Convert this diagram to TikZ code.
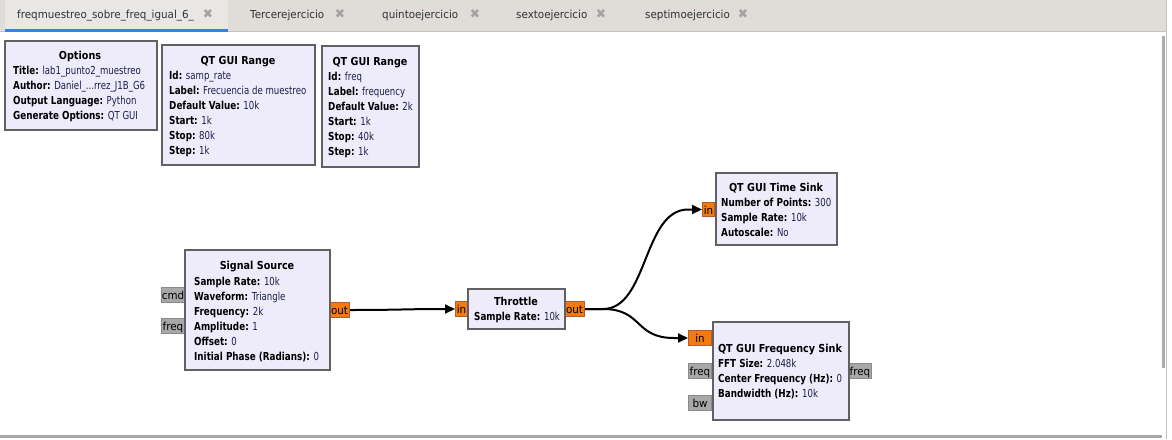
\documentclass[tikz,border=0pt]{standalone}
\usepackage{fontspec}
\setmainfont{DejaVu Sans}[UprightFeatures={FakeStretch=0.78}, BoldFeatures={FakeStretch=0.80}]
\newfontfamily\tabfont{DejaVu Sans}[FakeStretch=0.94]
\newfontfamily\ttlfont{DejaVu Sans}[FakeStretch=0.875]
\usetikzlibrary{arrows.meta}
\definecolor{blockfill}{HTML}{EEEBFB}
\definecolor{blockborder}{HTML}{616161}
\definecolor{portorange}{HTML}{F37A0C}
\definecolor{portoborder}{HTML}{B35A2E}
\definecolor{portgray}{HTML}{A8A8A8}
\definecolor{portgborder}{HTML}{8A8A8A}
\definecolor{tabbar}{HTML}{E0DCD8}
\definecolor{tabactive}{HTML}{E9E7E5}
\definecolor{tabblue}{HTML}{3584E4}
\definecolor{tabline}{HTML}{C5C1BC}
\definecolor{tabtext}{HTML}{2E3436}
\definecolor{closegray}{HTML}{A3A3A3}
\definecolor{scrollc}{HTML}{A9ADAB}
\definecolor{valcol}{HTML}{1A2048}
\newcommand\blkfont{\fontsize{11}{13}\selectfont}
\newcommand\kv[2]{\textbf{#1:} \textcolor{valcol}{#2}}
\begin{document}
\begin{tikzpicture}[x=1pt,y=-1pt,
  block/.style={draw=blockborder, fill=blockfill, line width=2pt, inner sep=0pt, anchor=north west},
  oport/.style={draw=portoborder, fill=portorange, line width=1pt, inner sep=0pt, anchor=north west,
     minimum height=15pt, font=\tabfont\fontsize{11}{13}\selectfont, text=black, text height=9.5pt, text depth=0.5pt},
  gport/.style={oport, draw=portgborder, fill=portgray},
  ttl/.style={anchor=base, inner sep=0pt, font=\ttlfont\fontsize{11}{13}\selectfont\bfseries},
  txt/.style={anchor=base west, inner sep=0pt, font=\blkfont},
  tabtxt/.style={anchor=base west, inner sep=0pt, font=\tabfont\fontsize{11}{13}\selectfont, text=tabtext},
  closeic/.style={inner sep=0pt, font=\tabfont\fontsize{13}{13}\selectfont, text=closegray},
  conn/.style={line width=2pt, black, -{Triangle[length=10pt,width=9pt]}}]
\useasboundingbox (0,0) rectangle (1172,439);
\fill[white] (0,0) rectangle (1172,439);
% tab bar
\fill[tabbar] (0,0) rectangle (1166,31);
\draw[tabline, line width=1pt] (0,31.5) -- (1166,31.5);
\fill[tabactive] (5,0) rectangle (228,29);
\fill[tabblue] (5,29) rectangle (228,32);
\node[tabtxt] (t1) at (17,18) {freqmuestreo\_sobre\_freq\_igual\_6\_};
\node[closeic] (c1) at (208,14) {✖};
\node[tabtxt] (t2) at (250,18) {Tercerejercicio};
\node[closeic] (c2) at (340,14) {✖};
\node[tabtxt] (t3) at (382,18) {quintoejercicio};
\node[closeic] (c3) at (475,14) {✖};
\node[tabtxt] (t4) at (516,18) {sextoejercicio};
\node[closeic] (c4) at (601,14) {✖};
\node[tabtxt] (t5) at (645,18) {septimoejercicio};
\node[closeic] (c5) at (743,14) {✖};
% window edges and scrollbars
\draw[tabline, line width=1pt] (1166.5,0) -- (1166.5,439);
\fill[scrollc] (1162,36) rectangle (1165,368);
\fill[portgray] (0,435) rectangle (1162,438);
% ports
\node[gport, minimum width=23pt] (cmd) at (161,287) {cmd};
\node[gport, minimum width=23pt] (ssfreq) at (161,318) {freq};
\node[oport, minimum width=20pt] (ssout) at (329,302) {out};
\node[oport, minimum width=12pt] (thin) at (455,301) {in};
\node[oport, minimum width=20pt] (thout) at (564,301) {out};
\node[oport, minimum width=12pt, minimum height=14pt] (tsin) at (702,202) {in};
\node[oport, minimum width=23pt] (fsin) at (688,330) {in};
\node[gport, minimum width=23pt] (fsfreq) at (688,363) {freq};
\node[gport, minimum width=23pt] (fsbw) at (688,395) {bw};
\node[gport, minimum width=23pt] (fsfreqo) at (848,363) {freq};
% blocks
\node[block, minimum width=152pt, minimum height=89pt] (opt) at (4,40) {};
\node[ttl] (optT) at (80,59) {Options};
\node[txt] (opt1) at (13,74) {\kv{Title}{lab1\_punto2\_muestreo}};
\node[txt] (opt2) at (13,89) {\kv{Author}{Daniel\_...rrez\_J1B\_G6}};
\node[txt] (opt3) at (13,104) {\kv{Output Language}{Python}};
\node[txt] (opt4) at (13,119) {\kv{Generate Options}{QT GUI}};

\node[block, minimum width=153pt, minimum height=120pt] (r1) at (161,44) {};
\node[ttl] (r1T) at (238,64) {QT GUI Range};
\node[txt] (r11) at (169,79.5) {\kv{Id}{samp\_rate}};
\node[txt] (r12) at (169,94.5) {\kv{Label}{Frecuencia de muestreo}};
\node[txt] (r13) at (169,109.5) {\kv{Default Value}{10k}};
\node[txt] (r14) at (169,124.5) {\kv{Start}{1k}};
\node[txt] (r15) at (169,139.5) {\kv{Stop}{80k}};
\node[txt] (r16) at (169,154.5) {\kv{Step}{1k}};

\node[block, minimum width=97pt, minimum height=121pt] (r2) at (321,45) {};
\node[ttl] (r2T) at (370,65) {QT GUI Range};
\node[txt] (r21) at (328,80.5) {\kv{Id}{freq}};
\node[txt] (r22) at (328,95.5) {\kv{Label}{frequency}};
\node[txt] (r23) at (328,110.5) {\kv{Default Value}{2k}};
\node[txt] (r24) at (328,125.5) {\kv{Start}{1k}};
\node[txt] (r25) at (328,140.5) {\kv{Stop}{40k}};
\node[txt] (r26) at (328,155.5) {\kv{Step}{1k}};

\node[block, minimum width=145pt, minimum height=120pt] (ss) at (184,249) {};
\node[ttl] (ssT) at (257,269) {Signal Source};
\node[txt] (ss1) at (194,285) {\kv{Sample Rate}{10k}};
\node[txt] (ss2) at (194,300) {\kv{Waveform}{Triangle}};
\node[txt] (ss3) at (194,315) {\kv{Frequency}{2k}};
\node[txt] (ss4) at (194,330) {\kv{Amplitude}{1}};
\node[txt] (ss5) at (194,345) {\kv{Offset}{0}};
\node[txt] (ss6) at (194,360) {\kv{Initial Phase (Radians)}{0}};

\node[block, minimum width=97pt, minimum height=40pt] (th) at (467,288) {};
\node[ttl] (thT) at (516,305) {Throttle};
\node[txt] (th1) at (474,320) {\kv{Sample Rate}{10k}};

\node[block, minimum width=121pt, minimum height=72pt] (ts) at (715,172) {};
\node[ttl] (tsT) at (776,191) {QT GUI Time Sink};
\node[txt] (ts1) at (721,206) {\kv{Number of Points}{300}};
\node[txt] (ts2) at (721,221) {\kv{Sample Rate}{10k}};
\node[txt] (ts3) at (721,236) {\kv{Autoscale}{No}};

\node[block, minimum width=136pt, minimum height=98pt] (fs) at (712,321) {};
\node[ttl] (fsT) at (780,352) {QT GUI Frequency Sink};
\node[txt] (fs1) at (718,367) {\kv{FFT Size}{2.048k}};
\node[txt] (fs2) at (718,382) {\kv{Center Frequency (Hz)}{0}};
\node[txt] (fs3) at (718,397) {\kv{Bandwidth (Hz)}{10k}};
% connections
\draw[conn] (ssout.east) .. controls +(50,0) and +(-50,0) .. (thin.west);
\draw[conn] (thout.east) -- ++(18,0) .. controls +(45,0) and +(-45,0) .. ([xshift=-14pt]tsin.west) -- (tsin.west);
\draw[conn] (thout.east) -- ++(18,0) .. controls +(40,0) and +(-40,0) .. ([xshift=-14pt]fsin.west) -- (fsin.west);
\end{tikzpicture}
\end{document}
